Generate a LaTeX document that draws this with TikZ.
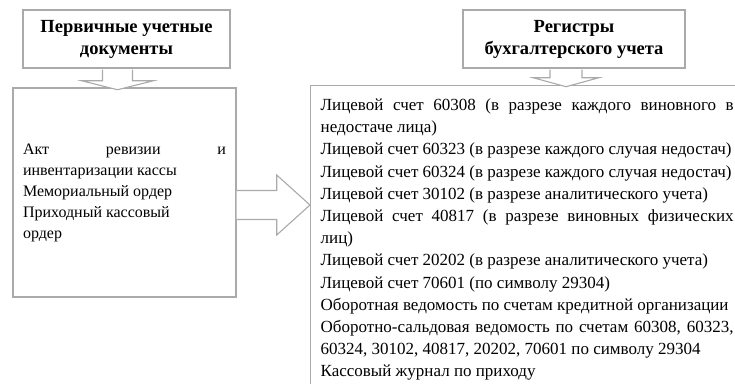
\documentclass[tikz,border=0pt]{standalone}
\usepackage{fontspec}
\setmainfont{Liberation Serif}
\usetikzlibrary{calc}
\usetikzlibrary{positioning}

\definecolor{boxgray}{RGB}{170,170,170}

\tikzset{
  titlebox/.style={draw=boxgray, line width=1.4pt, fill=white, align=center,
    font=\bfseries\fontsize{18.5}{22}\selectfont, inner sep=0pt, minimum height=58pt},
  listbox/.style={draw=boxgray, line width=1.4pt, fill=white, align=justify,
    font=\fontsize{17}{22.2}\selectfont, inner xsep=10pt},
  blockarrow/.style={draw=boxgray, line width=1.1pt, fill=white, line join=miter},
}

\begin{document}
\begin{tikzpicture}[x=1pt,y=-1pt]
    \useasboundingbox (0,0) rectangle (735,383);
    \clip (0,0) rectangle (735,383);
    % titles
    \node[titlebox, minimum width=207pt] (titleL) at (126.5,39) {Первичные учетные\\документы};
    \node[titlebox, minimum width=222pt] (titleR) at (574,39) {Регистры\\бухгалтерского учета};
    % lists
    \node[listbox, font=\fontsize{16}{21}\selectfont, text width=203pt, minimum height=209pt] (boxL) at (124.5,192.5)
        {\hyphenpenalty=10000 Акт ревизии и\linebreak инвентаризации кассы\par
         Мемориальный ордер\par Приходный кассовый\\ордер\par\vspace{18pt}};
    \node[listbox, text width=413pt, inner ysep=13pt, anchor=north west] (boxR) at (310,85)
        {\hyphenpenalty=10000
         Лицевой счет 60308 (в разрезе каждого виновного в\linebreak недостаче лица)\par
         Лицевой счет 60323 (в разрезе каждого случая недостач)\par
         Лицевой счет 60324 (в разрезе каждого случая недостач)\par
         Лицевой счет 30102 (в разрезе аналитического учета)\par
         Лицевой счет 40817 (в разрезе виновных физических\linebreak лиц)\par
         Лицевой счет 20202 (в разрезе аналитического учета)\par
         Лицевой счет 70601 (по символу 29304)\par
         Оборотная ведомость по счетам кредитной организации\par
         Оборотно-сальдовая ведомость по счетам 60308, 60323,\linebreak 60324, 30102, 40817, 20202, 70601 по символу 29304\par
         Кассовый журнал по приходу\par\vspace{40pt}};
    % arrows
    \coordinate (dl) at ($(titleL.south)+(-9,0)$);
    \draw[blockarrow] ($(dl)+(-15,1)$) -- ($(dl)+(-15,12)$) -- ($(dl)+(-36,12)$)
        -- ($(dl)+(0,21)$) -- ($(dl)+(36,12)$) -- ($(dl)+(15,12)$) -- ($(dl)+(15,1)$);
    \coordinate (dr) at ($(titleR.south)+(-8,0)$);
    \draw[blockarrow] ($(dr)+(-16,1)$) -- ($(dr)+(-16,9)$) -- ($(dr)+(-33,9)$)
        -- ($(dr)+(0,18)$) -- ($(dr)+(33,9)$) -- ($(dr)+(16,9)$) -- ($(dr)+(16,1)$);
    \coordinate (ar) at ($(boxL.east)+(0,12.5)$);
    \draw[blockarrow] ($(ar)+(0,-14.5)$) -- ($(ar)+(40,-14.5)$) -- ($(ar)+(40,-30)$)
        -- (ar -| boxR.west) -- ($(ar)+(40,30)$) -- ($(ar)+(40,14.5)$) -- ($(ar)+(0,14.5)$);
\end{tikzpicture}
\end{document}
